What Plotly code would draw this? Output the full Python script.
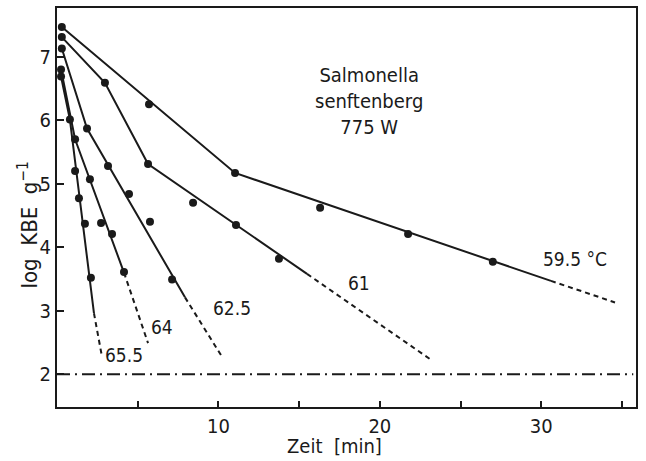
import plotly.graph_objects as go

# ---- data (time in min, log KBE/g) ----
series_names = ["59.5", "61", "62.5", "64", "65.5"]

t_595 = [0.3, 5.7, 11.03, 16.3, 21.75, 27.0]
y_595 = [7.47, 6.25, 5.17, 4.62, 4.21, 3.77]
fit_t_595 = [0.3, 11.03, 30.6]
fit_y_595 = [7.47, 5.17, 3.47]
ext_t_595 = [30.6, 34.57]
ext_y_595 = [3.47, 3.13]

t_61 = [0.3, 2.97, 5.64, 8.43, 11.09, 13.75]
y_61 = [7.31, 6.59, 5.31, 4.70, 4.35, 3.82]
fit_t_61 = [0.3, 2.97, 5.64, 15.49]
fit_y_61 = [7.31, 6.59, 5.31, 3.58]
ext_t_61 = [15.49, 23.1]
ext_y_61 = [3.58, 2.24]

t_625 = [0.3, 1.86, 3.16, 4.46, 5.76, 7.13]
y_625 = [7.13, 5.87, 5.28, 4.84, 4.40, 3.49]
fit_t_625 = [0.3, 1.86, 7.93]
fit_y_625 = [7.13, 5.87, 3.21]
ext_t_625 = [7.93, 10.28]
ext_y_625 = [3.21, 2.25]

t_64 = [0.25, 1.12, 2.04, 2.73, 3.41, 4.15]
y_64 = [6.80, 5.70, 5.07, 4.38, 4.21, 3.61]
fit_t_64 = [0.25, 1.12, 4.15]
fit_y_64 = [6.80, 5.70, 3.60]
ext_t_64 = [4.15, 5.64]
ext_y_64 = [3.60, 2.49]

t_655 = [0.25, 0.8, 1.12, 1.36, 1.73, 2.1]
y_655 = [6.69, 6.01, 5.20, 4.77, 4.37, 3.52]
fit_t_655 = [0.25, 0.8, 2.29]
fit_y_655 = [6.69, 6.01, 2.96]
ext_t_655 = [2.29, 2.79]
ext_y_655 = [2.96, 2.27]

limit_t = [0, 35.7]
limit_y = [2, 2]

x_ticks = [10, 20, 30]
x_minor_ticks = [5, 15, 25, 35]
y_ticks = [2, 3, 4, 5, 6, 7]

FONT = "DejaVu Sans Condensed, Liberation Sans Narrow, DejaVu Sans, sans-serif"
INK = "#1a1a1a"

fig = go.Figure()

groups = [
    (t_595, y_595, fit_t_595, fit_y_595, ext_t_595, ext_y_595),
    (t_61, y_61, fit_t_61, fit_y_61, ext_t_61, ext_y_61),
    (t_625, y_625, fit_t_625, fit_y_625, ext_t_625, ext_y_625),
    (t_64, y_64, fit_t_64, fit_y_64, ext_t_64, ext_y_64),
    (t_655, y_655, fit_t_655, fit_y_655, ext_t_655, ext_y_655),
]

for name, (t, y, ft, fy, et, ey) in zip(series_names, groups):
    fig.add_trace(go.Scatter(x=ft, y=fy, mode="lines",
                             line=dict(color=INK, width=2), showlegend=False, hoverinfo="skip"))
    fig.add_trace(go.Scatter(x=et, y=ey, mode="lines",
                             line=dict(color=INK, width=2, dash="5px,4px"), showlegend=False,
                             hoverinfo="skip"))
    fig.add_trace(go.Scatter(x=t, y=y, mode="markers", name=name,
                             marker=dict(color=INK, size=8), showlegend=False))

fig.add_trace(go.Scatter(x=limit_t, y=limit_y, mode="lines",
                         line=dict(color=INK, width=2, dash="13px,5px,2px,5px"),
                         showlegend=False, hoverinfo="skip"))

annots = [
    dict(x=32.1, y=3.82, text="59.5 °C", size=19),
    dict(x=18.7, y=3.44, text="61", size=19),
    dict(x=10.85, y=3.05, text="62.5", size=19),
    dict(x=6.5, y=2.75, text="64", size=19),
    dict(x=4.15, y=2.30, text="65.5", size=19),
    dict(x=19.3, y=6.3, text="Salmonella<br>senftenberg<br>775 W", size=20),
]
for a in annots:
    fig.add_annotation(x=a["x"], y=a["y"], text=a["text"], showarrow=False,
                       font=dict(family=FONT, size=a["size"], color=INK), xref="x", yref="y")

fig.add_annotation(xref="paper", yref="paper", x=-0.05, y=0.455, xanchor="center", yanchor="middle",
                   text="log  KBE  g<sup>−1</sup>", textangle=-90, showarrow=False,
                   font=dict(family=FONT, size=22, color=INK))

fig.add_annotation(xref="paper", yref="paper", x=0.48, y=-0.097, xanchor="center", yanchor="middle",
                   text="Zeit  [min]", showarrow=False,
                   font=dict(family=FONT, size=20, color=INK))

fig.update_layout(
    width=646, height=461,
    margin=dict(l=57, r=10, t=6, b=54),
    paper_bgcolor="white", plot_bgcolor="white",
    font=dict(family=FONT, size=20, color=INK),
    xaxis=dict(range=[0, 35.87], tickvals=x_ticks,
               ticks="inside", ticklen=6, tickwidth=1.8, tickcolor=INK,
               minor=dict(tickvals=x_minor_ticks, ticks="inside", ticklen=6,
                          tickwidth=1.8, tickcolor=INK, showgrid=False),
               tickfont=dict(family=FONT, size=20),
               showline=True, linecolor=INK, linewidth=2, mirror=True,
               showgrid=False, zeroline=False),
    yaxis=dict(range=[1.483, 7.768], tickvals=y_ticks,
               ticks="inside", ticklen=7, tickwidth=1.8, tickcolor=INK,
               tickfont=dict(family=FONT, size=20),
               showline=True, linecolor=INK, linewidth=2, mirror=True,
               showgrid=False, zeroline=False),
)

fig.write_html("out.html")
